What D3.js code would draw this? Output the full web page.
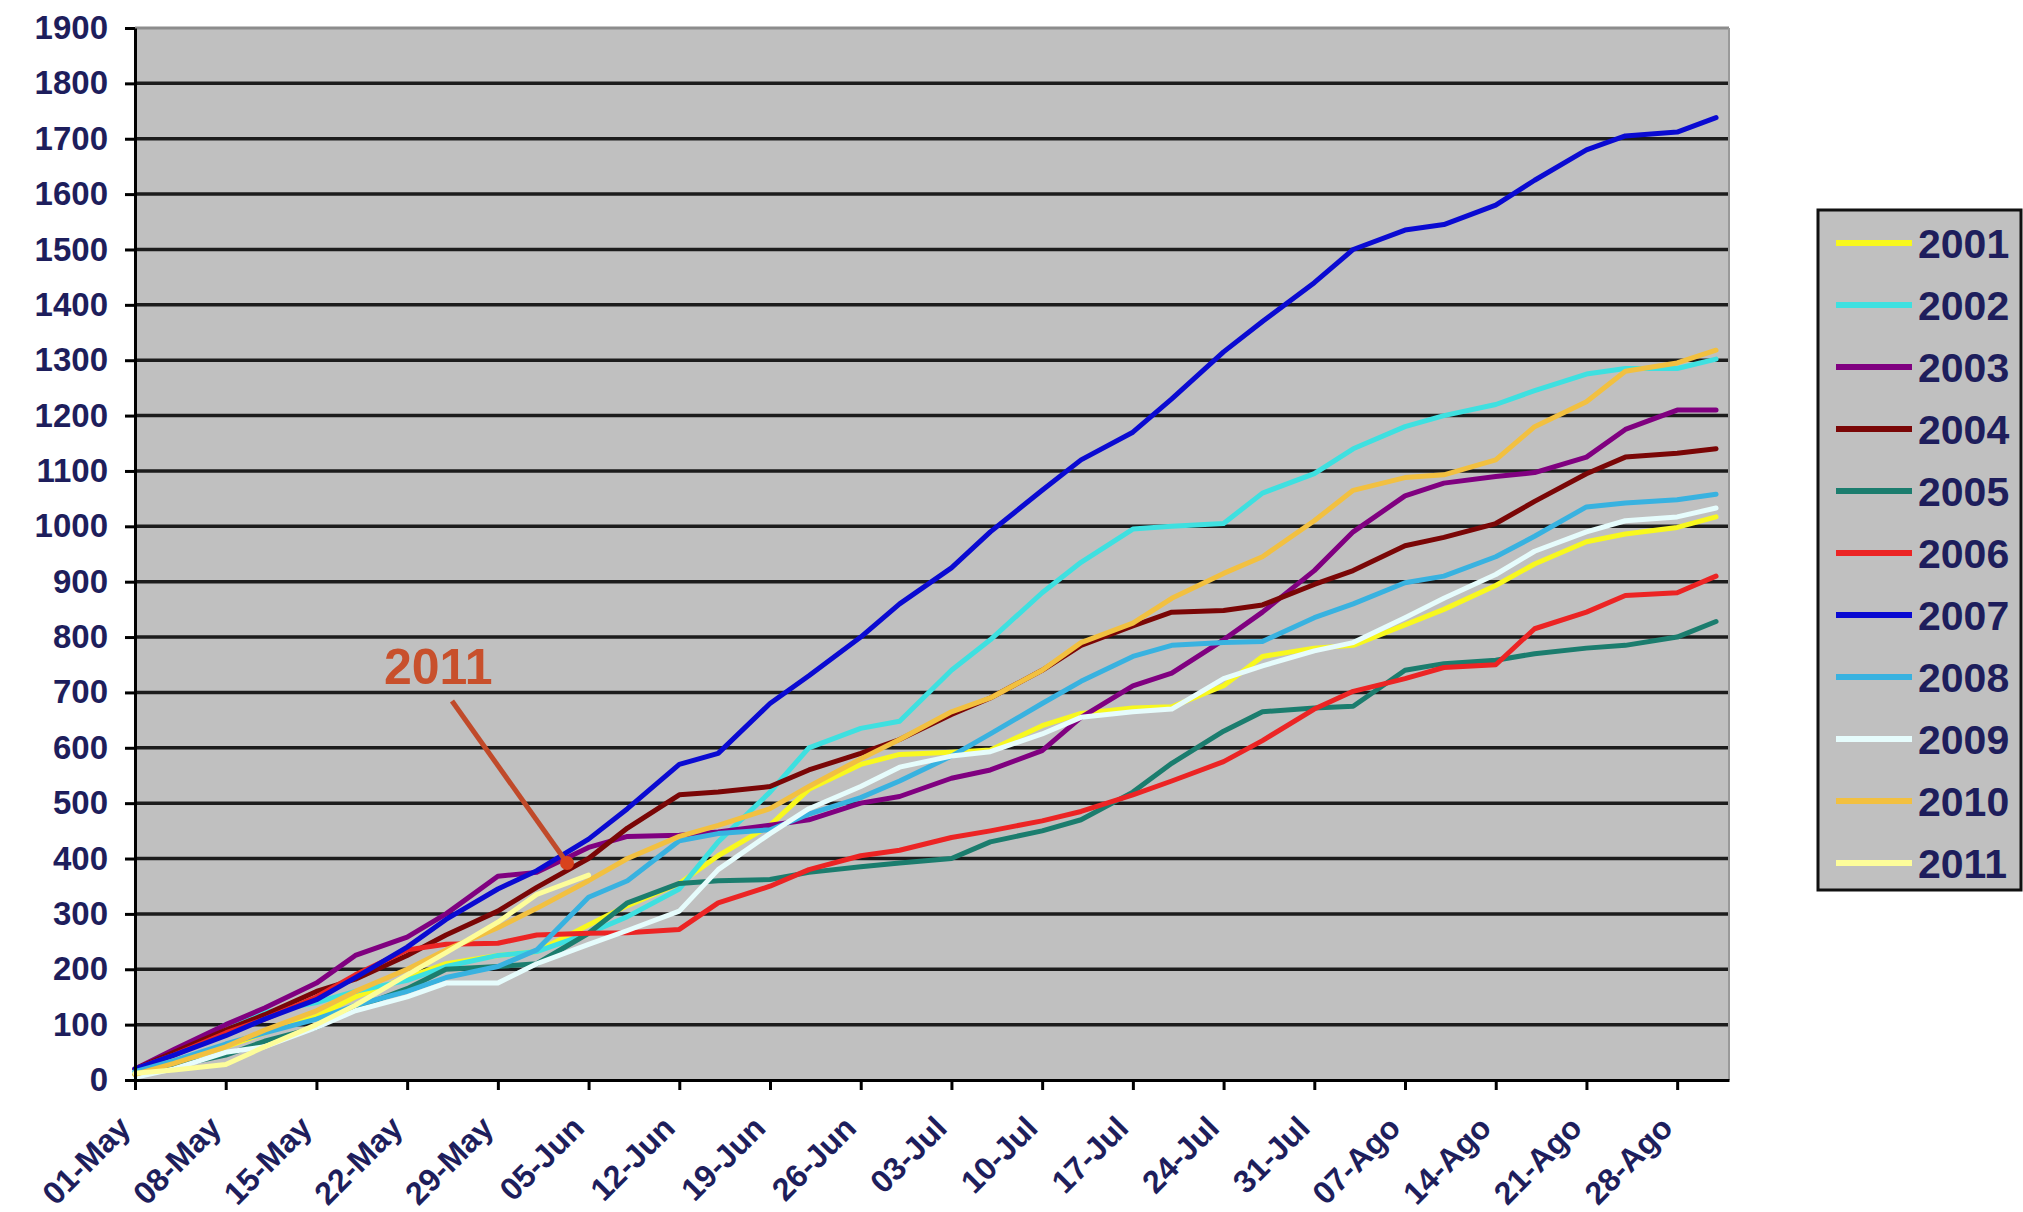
<!DOCTYPE html>
<html><head><meta charset="utf-8">
<script src="https://cdn.jsdelivr.net/npm/d3@7"></script>
<style>body{margin:0;background:#fff;} svg{display:block;}</style>
</head><body>
<svg id="chart" width="2023" height="1212"></svg>
<script>
// ---- DATA ----
const days = [0,3,7,10,14,17,21,24,28,31,35,38,42,45,49,52,56,59,63,66,70,73,77,80,84,87,91,94,98,101,105,108,112,115,119,122];
const tickDays = [0,7,14,21,28,35,42,49,56,63,70,77,84,91,98,105,112,119];
const tickLabels = ["01-May","08-May","15-May","22-May","29-May","05-Jun","12-Jun","19-Jun","26-Jun","03-Jul","10-Jul","17-Jul","24-Jul","31-Jul","07-Ago","14-Ago","21-Ago","28-Ago"];
const yTickValues = [0,100,200,300,400,500,600,700,800,900,1000,1100,1200,1300,1400,1500,1600,1700,1800,1900];
const years = ["2001","2002","2003","2004","2005","2006","2007","2008","2009","2010","2011"];

const s2001 = [10,30,60,85,115,150,185,210,225,232,280,315,355,405,460,525,570,588,592,596,640,662,672,674,712,765,780,785,822,850,893,932,972,986,998,1017];
const s2002 = [15,50,100,122,140,160,180,205,225,232,265,295,345,430,520,600,635,648,740,795,880,935,995,1000,1005,1060,1095,1140,1180,1200,1220,1245,1275,1285,1285,1302];
const s2003 = [20,55,100,130,175,225,258,300,368,375,420,440,442,448,460,470,500,512,545,560,595,655,712,735,795,845,920,990,1055,1078,1090,1097,1125,1175,1210,1210];
const s2004 = [20,50,90,118,160,182,225,262,305,348,400,455,515,520,530,560,590,615,660,690,740,785,820,845,848,858,895,920,965,980,1005,1045,1095,1125,1132,1140];
const s2005 = [10,25,45,70,95,130,165,200,205,210,265,320,355,360,362,375,385,392,400,430,450,470,520,572,630,665,672,675,740,752,758,770,780,785,800,828];
const s2006 = [20,45,85,110,150,190,235,245,247,262,265,266,272,320,350,380,405,415,438,450,468,485,515,540,575,613,670,702,725,745,750,815,845,875,880,910];
const s2007 = [20,45,80,110,145,185,240,290,345,378,435,490,570,590,680,730,800,860,925,990,1065,1120,1170,1230,1315,1370,1440,1500,1535,1545,1580,1625,1680,1705,1712,1738];
const s2008 = [15,35,65,85,110,135,160,185,205,235,330,360,432,445,452,480,510,540,585,625,680,720,765,785,790,792,835,860,898,910,945,982,1035,1042,1048,1058];
const s2009 = [5,20,50,60,95,125,150,175,175,210,245,270,305,380,445,490,530,565,585,593,625,655,665,670,725,748,775,790,835,870,913,955,990,1010,1017,1033];
const s2010 = [10,30,60,90,125,160,200,235,275,310,360,400,440,460,490,530,580,615,665,690,740,790,825,870,915,945,1010,1065,1088,1093,1120,1180,1225,1280,1295,1318];
const s2011 = [12,18,28,60,100,135,190,230,285,335,370,null,null,null,null,null,null,null,null,null,null,null,null,null,null,null,null,null,null,null,null,null,null,null,null,null];

const allSeries = [s2001,s2002,s2003,s2004,s2005,s2006,s2007,s2008,s2009,s2010,s2011];

// ---- STYLE ----
const colors = ["#f8f81e","#3ee0e0","#800080","#7a0606","#1b7d6e","#ec2424","#0a0ad2","#38b2e0","#e6fcfc","#f2c040","#fdfd9a"];
const FONT = "'Liberation Sans', Arial, Helvetica, sans-serif";
const NAVY = "#1e1e5c";

const svg = d3.select("#chart");
const x = d3.scaleLinear().domain([0,123]).range([135,1729]);
const y = d3.scaleLinear().domain([0,1900]).range([1080,28]);

// plot background
svg.append("rect").attr("x",x(0)).attr("y",y(1900)).attr("width",x(123)-x(0)).attr("height",y(0)-y(1900)).attr("fill","#c0c0c0");

// gridlines
svg.append("g").selectAll("line").data(yTickValues.filter(v=>v>0 && v<1900)).join("line")
  .attr("x1",x(0)).attr("x2",x(123)).attr("y1",d=>y(d)).attr("y2",d=>y(d))
  .attr("stroke","#1c1c1c").attr("stroke-width",3.5);
// top + right border
svg.append("line").attr("x1",x(0)).attr("x2",x(123)).attr("y1",y(1900)).attr("y2",y(1900)).attr("stroke","#8c8c8c").attr("stroke-width",3);
svg.append("line").attr("x1",x(123)).attr("x2",x(123)).attr("y1",y(1900)).attr("y2",y(0)).attr("stroke","#9a9a9a").attr("stroke-width",2);

// series
const line = d3.line().defined(d=>d[1]!=null).x(d=>x(d[0])).y(d=>y(d[1]));
allSeries.forEach((s,i)=>{
  svg.append("path").datum(days.map((d,j)=>[d,s[j]])).attr("d",line)
    .attr("fill","none").attr("stroke",colors[i]).attr("stroke-width",5)
    .attr("stroke-linejoin","round").attr("stroke-linecap","round");
});

// y axis
const gy = svg.append("g").attr("transform",`translate(${x(0)},0)`)
  .call(d3.axisLeft(y).tickValues(yTickValues).tickSize(10).tickSizeOuter(0).tickPadding(17).tickFormat(d3.format("d")));
gy.select(".domain").attr("stroke","#000").attr("stroke-width",3);
gy.selectAll(".tick line").attr("stroke","#000").attr("stroke-width",3);
gy.selectAll(".tick text").attr("font-family",FONT).attr("font-weight","bold").attr("font-size",33).attr("fill",NAVY);

// x axis
const gx = svg.append("g").attr("transform",`translate(0,${y(0)})`)
  .call(d3.axisBottom(x).tickValues(tickDays).tickSize(10).tickSizeOuter(0).tickFormat((d,i)=>tickLabels[i]));
gx.select(".domain").attr("stroke","#000").attr("stroke-width",3);
gx.selectAll(".tick line").attr("stroke","#000").attr("stroke-width",3);
gx.selectAll(".tick text").attr("font-family",FONT).attr("font-weight","bold").attr("font-size",32).attr("fill",NAVY)
  .attr("x",0).attr("y",0).attr("dy","0.35em").attr("text-anchor","end")
  .attr("transform","translate(-11,42) rotate(-45)");

// legend
const lg = svg.append("g");
lg.append("rect").attr("x",1818).attr("y",210).attr("width",203).attr("height",680)
  .attr("fill","#c0c0c0").attr("stroke","#111").attr("stroke-width",3);
years.forEach((yr,i)=>{
  const cy = 243 + i*62;
  lg.append("line").attr("x1",1836).attr("x2",1912).attr("y1",cy).attr("y2",cy)
    .attr("stroke",colors[i]).attr("stroke-width",6);
  lg.append("text").attr("x",1918).attr("y",cy).attr("dy","0.36em").text(yr)
    .attr("font-family",FONT).attr("font-weight","bold").attr("font-size",41).attr("fill",NAVY);
});

// annotation
const ann = svg.append("g");
ann.append("text").attr("x",384).attr("y",684).text("2011")
  .attr("font-family",FONT).attr("font-weight","bold").attr("font-size",50).attr("fill","#c8502c");
ann.append("line").attr("x1",452).attr("y1",701).attr("x2",565).attr("y2",860)
  .attr("stroke","#c04a2a").attr("stroke-width",5);
ann.append("circle").attr("cx",567).attr("cy",863).attr("r",7).attr("fill","#d8431e");
</script>
</body></html>
